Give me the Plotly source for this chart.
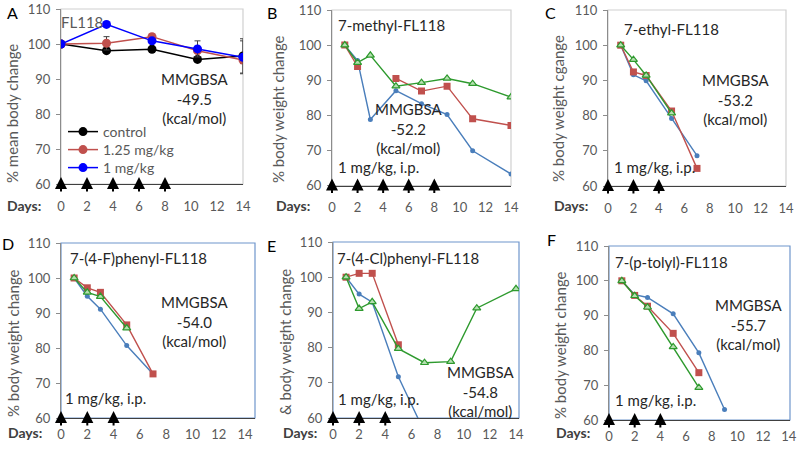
import plotly.graph_objects as go

W, H = 800, 451
FONT = "Lato, 'Noto Sans', sans-serif"
GREY = "#595959"
DARK = "#262626"

# ---------------- data ----------------
day_ticks = [0, 2, 4, 6, 8, 10, 12, 14]
y_ticks = [60, 70, 80, 90, 100, 110]

# Panel A (FL118)
a_days = [0, 3.5, 7, 10.5, 14]
a_control = [100, 98.1, 98.5, 95.6, 96.6]
a_control_err = [0, 0.5, 0.5, 0.6, 4.9]
a_125 = [100, 100.2, 102.1, 98.1, 95.4]
a_125_err = [0, 1.9, 0.7, 0.5, 1.0]
a_1 = [100, 105.6, 100.9, 98.6, 96.2]
a_1_err = [0, 0.6, 0.6, 2.3, 4.7]
legend_names = ["control", "1.25 mg/kg", "1 mg/kg"]

# Panel B (7-methyl-FL118)
b_days = [1, 2, 3, 5, 7, 9, 11, 14]
b_blue = [100, 95.6, 78.8, 87.0, 83.3, 80.2, 69.9, 63.3]
b_red = [100, 93.9, None, 90.5, 86.9, 88.3, 79.0, 77.1]
b_green = [100, 95.0, 97.1, 88.3, 89.3, 90.5, 89.0, 85.2]

# Panel C (7-ethyl-FL118)
c_days = [1, 2, 3, 5, 7]
c_blue = [100, 91.6, 89.9, 79.2, 68.6]
c_red = [100, 92.4, 91.4, 81.3, 65.0]
c_green = [100, 95.9, 91.4, 80.7, None]

# Panel D (7-(4-F)phenyl-FL118)
d_days = [1, 2, 3, 5, 7]
d_blue = [100, 94.8, 91.1, 80.7, 72.6]
d_red = [100, 97.2, 95.9, 86.6, 72.6]
d_green = [100, 95.9, 94.7, 85.7, None]

# Panel E (7-(4-Cl)phenyl-FL118)
e_days = [1, 2, 3, 5, 7, 9, 11, 14]
e_blue = [100, 95.2, 92.9, 71.7, 56.0, None, None, None]
e_red = [100, 101.1, 101.1, 80.8, None, None, None, None]
e_green = [100, 91.1, 93.0, 79.7, 75.7, 76.0, 91.2, 96.7]

# Panel F (7-(p-tolyl)-FL118)
f_days = [1, 2, 3, 5, 7, 9]
f_blue = [100, 96.0, 95.2, 90.5, 79.3, 63.0]
f_red = [100, 95.8, 92.7, 84.9, 73.6, None]
f_green = [100, 95.7, 92.4, 81.0, 69.3, None]

long_dose_days = [0, 2, 4, 6, 8]
short_dose_days = [0, 2, 4]

panel_letters = ["A", "B", "C", "D", "E", "F"]
compound_titles = ["FL118", "7-methyl-FL118", "7-ethyl-FL118",
                   "7-(4-F)phenyl-FL118", "7-(4-Cl)phenyl-FL118", "7-(p-tolyl)-FL118"]
mmgbsa = ["-49.5", "-52.2", "-53.2", "-54.0", "-54.8", "-55.7"]
y_titles = ["% mean body change", "% body weight change", "% body weight cgange",
            "% body weight change", "& body weight change", "% body weight change"]
dose_label = "1 mg/kg, i.p."

# ---------------- layout helpers ----------------
def fx(x):
    return x / W

def fy(y):
    return 1 - y / H

LG = "#d0d0d0"
BL = "#6f96cc"
panels = [
    dict(x0=61, x1=243, xmax=14.0, yt=9, yb=184, border=LG, stand=10),
    dict(x0=332, x1=511, xmax=14.0, yt=10, yb=185.5, border=LG, stand=10),
    dict(x0=608, x1=786, xmax=14.0, yt=10, yb=186, border=LG, stand=10),
    dict(x0=61, x1=255, xmax=14.76, yt=243, yb=418, border=BL, stand=4),
    dict(x0=333, x1=519, xmax=14.23, yt=242, yb=418, border=BL, stand=4),
    dict(x0=609, x1=790, xmax=14.1, yt=246, yb=420, border=BL, stand=4),
]

fig = go.Figure()
layout = dict(width=W, height=H, margin=dict(l=0, r=0, t=0, b=0, autoexpand=False),
              paper_bgcolor="white", plot_bgcolor="white",
              font=dict(family=FONT, size=13, color=GREY),
              showlegend=True)
shapes, annotations = [], []

for i, p in enumerate(panels):
    n = "" if i == 0 else str(i + 1)
    xd = [fx(p["x0"]), fx(p["x1"])]
    yd = [fy(p["yb"]), fy(p["yt"])]
    layout["xaxis" + n] = dict(domain=xd, range=[0, p["xmax"]], tickvals=day_ticks,
                                showgrid=False, zeroline=False, showline=True,
                                linecolor="#404040", linewidth=1, ticks="",
                                ticklabelstandoff=p["stand"], anchor="y" + n,
                                automargin=False,
                                tickfont=dict(family=FONT, size=13, color=GREY))
    layout["yaxis" + n] = dict(domain=yd, range=[60, 110], tickvals=y_ticks,
                                showgrid=False, zeroline=False, showline=True,
                                linecolor="#8c8c8c", linewidth=1, ticks="outside",
                                ticklen=4, tickcolor="#8c8c8c", ticklabelstandoff=3,
                                anchor="x" + n, automargin=False,
                                tickfont=dict(family=FONT, size=13, color=GREY))
    shapes.append(dict(type="rect", xref="x" + n + " domain", yref="y" + n + " domain",
                       x0=0, x1=1, y0=0, y1=1, line=dict(color=p["border"], width=1.2),
                       layer="below"))

# ---------------- traces ----------------
legend_ids = ["legend", "legend2", "legend3"]
for k, (vals, errs, col) in enumerate([(a_control, a_control_err, "#000000"),
                                       (a_125, a_125_err, "#c0504d"),
                                       (a_1, a_1_err, "#0000ff")]):
    fig.add_trace(go.Scatter(x=a_days, y=vals, mode="lines+markers", name=legend_names[k],
                             line=dict(color=col, width=1.5),
                             marker=dict(color=col, size=9, symbol="circle"),
                             error_y=dict(type="data", array=errs, color="#404040",
                                          thickness=1, width=3),
                             xaxis="x", yaxis="y", showlegend=True,
                             legend=legend_ids[k]))

BLUE, RED, GREEN = "#4a7ebb", "#c0504d", "#2e9a2e"
series_sets = [
    ("2", b_days, b_blue, b_red, b_green),
    ("3", c_days, c_blue, c_red, c_green),
    ("4", d_days, d_blue, d_red, d_green),
    ("5", e_days, e_blue, e_red, e_green),
    ("6", f_days, f_blue, f_red, f_green),
]
for n, dx, bl, rd, gr in series_sets:
    fig.add_trace(go.Scatter(x=dx, y=bl, mode="lines+markers", showlegend=False,
                             line=dict(color=BLUE, width=1.4),
                             marker=dict(color=BLUE, size=5, symbol="circle"),
                             xaxis="x" + n, yaxis="y" + n))
    fig.add_trace(go.Scatter(x=dx, y=rd, mode="lines+markers", showlegend=False,
                             line=dict(color=RED, width=1.4),
                             marker=dict(color=RED, size=7, symbol="square"),
                             xaxis="x" + n, yaxis="y" + n))
    fig.add_trace(go.Scatter(x=dx, y=gr, mode="lines+markers", showlegend=False,
                             line=dict(color=GREEN, width=1.4),
                             marker=dict(color="#b5dfb0", size=7, symbol="triangle-up",
                                         line=dict(color=GREEN, width=1.2)),
                             xaxis="x" + n, yaxis="y" + n))

# ---------------- arrows (dosing days) ----------------
for i in range(6):
    n = "" if i == 0 else str(i + 1)
    dd = long_dose_days if i < 2 else short_dose_days
    for d in dd:
        annotations.append(dict(x=d, y=62, xref="x" + n, yref="y" + n, text="",
                                showarrow=True, ax=0, ay=16, arrowhead=2, arrowsize=1.2,
                                arrowwidth=2, arrowcolor="#000000"))

# ---------------- text ----------------
def txt(x, y, s, size=15, color=DARK, xanchor="center", angle=0, bold=False):
    if bold:
        s = "<b>" + s + "</b>"
    annotations.append(dict(x=fx(x), y=fy(y), xref="paper", yref="paper", text=s,
                            showarrow=False, xanchor=xanchor, yanchor="middle",
                            textangle=angle,
                            font=dict(family=FONT, size=size, color=color)))

letter_pos = [(12, 13), (272, 13), (550, 12), (8, 243), (271, 246), (551, 240)]
title_pos = [(59, 22), (336, 25), (622, 29), (68, 258), (335, 258), (613, 262)]
mm_pos = [(194, 99), (408, 128), (735, 100), (194, 321), (480, 391), (748, 324)]
ytitle_pos = [(12, 114), (278, 109), (558, 109), (13, 343), (285, 342), (560, 345)]
days_pos = [(24, 205), (293, 205), (571, 205), (25, 432), (300, 432), (573, 432)]
dose_pos = [None, (336, 167), (612, 167), (63, 398), (336, 399), (613, 400)]

for i in range(6):
    txt(*letter_pos[i], panel_letters[i], size=16, color="#000000")
    txt(*title_pos[i], compound_titles[i], xanchor="left",
        color=GREY if i == 0 else DARK)
    txt(*mm_pos[i], "MMGBSA<br>" + mmgbsa[i] + "<br>(kcal/mol)", color=DARK)
    txt(*ytitle_pos[i], y_titles[i], color=GREY, angle=-90)
    txt(*days_pos[i], "Days:", size=14, color="#404040", bold=True)
    if dose_pos[i]:
        txt(*dose_pos[i], dose_label, xanchor="left", color=DARK)

legend_tops = [116, 134, 152]
for lid, top in zip(legend_ids, legend_tops):
    layout[lid] = dict(x=fx(63), y=fy(top), xanchor="left", yanchor="top",
                       bgcolor="rgba(0,0,0,0)", tracegroupgap=0,
                       font=dict(family=FONT, size=14, color=GREY),
                       itemwidth=30)
layout["shapes"] = shapes
layout["annotations"] = annotations
fig.update_layout(**layout)

fig.write_html("out.html", config={"displayModeBar": False},
               post_script="document.body.style.margin='0px';"
                           "document.body.style.overflow='hidden';")
